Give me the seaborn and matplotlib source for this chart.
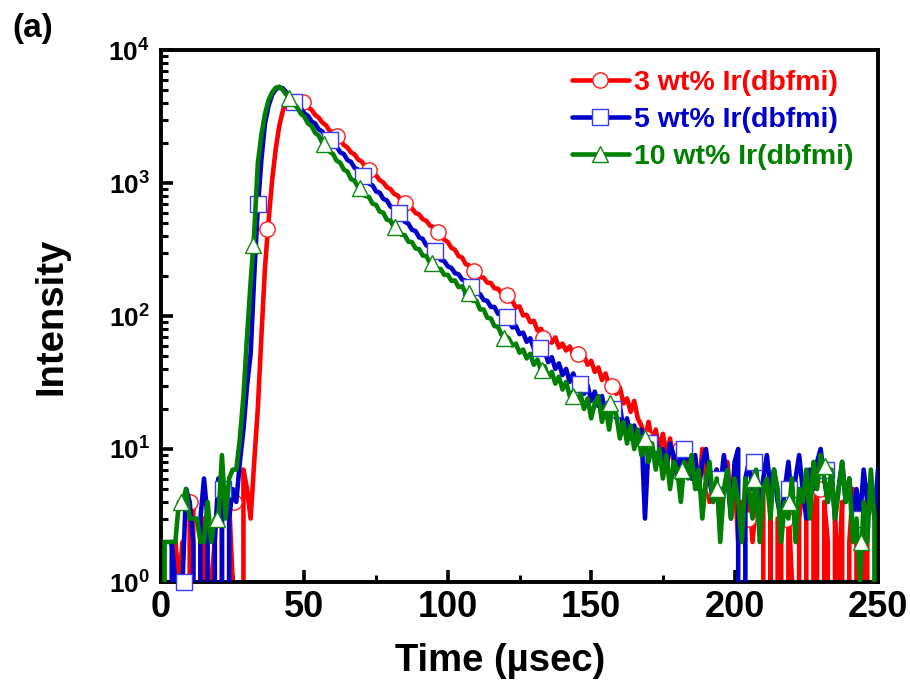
import numpy as np
import pandas as pd
import matplotlib
matplotlib.use("Agg")
import matplotlib.pyplot as plt
import seaborn as sns
from matplotlib.lines import Line2D
from matplotlib.ticker import LogLocator, MultipleLocator, NullFormatter

# ---------------- data ----------------
series_labels = ["3 wt% Ir(dbfmi)", "5 wt% Ir(dbfmi)", "10 wt% Ir(dbfmi)"]
tick_x = [0, 50, 100, 150, 200, 250]

# sampling grid of the decay traces (µs)
time_us = [1.25 * i for i in range(201)]

counts_3wt = [
    0, 0, 1, 0, 2, 1, 2, 0, 4, 4, 0, 2, 3, 0, 1, 2, 0, 3, 4, 4, 1, 0, 0,
    7, 5, 3, 8, 20, 70, 230, 520, 1050, 1800, 2700, 3500, 4200, 4400, 4350, 4200, 4100, 3950,
    3700, 3550, 3250, 3100, 2850, 2720, 2480, 2380, 2200, 2100,
    1930, 1850, 1700, 1640, 1500, 1450, 1330, 1270, 1180, 1140,
    1050, 1010, 930, 900, 830, 805, 740, 715, 665, 645,
    595, 580, 535, 520, 480, 465, 430, 412, 375, 360,
    325, 315, 282, 275, 245, 240, 215, 212, 196, 194,
    178, 177, 162, 160, 148, 146,
    132, 129, 116, 118, 101, 102, 90, 92, 78, 80,
    70, 72, 63, 69, 58, 62, 55, 59, 51, 54,
    49, 50, 43, 46, 38, 41, 33, 37, 30, 31,
    26, 29, 22, 24, 19, 23, 17, 15, 12, 16,
    11, 14, 10, 13, 9, 12, 8, 10, 11, 7,
    9, 6, 8, 5, 10, 6, 4, 5, 7, 3,
    5, 8, 4, 6, 2, 4, 3, 5, 2, 4,
    3, 5, 0, 4, 0, 3, 3, 0, 4, 1,
    0, 3, 5, 4, 0, 3, 5, 0, 4, 2,
    0, 3, 1, 4, 0, 2, 5, 3, 0, 2,
    4, 0, 1, 0,
]

counts_5wt = [
    0, 1, 0, 2, 1, 0, 1, 5, 4, 2, 0, 3, 6, 3, 0, 2, 6, 5, 0, 3, 5, 4,
    8, 14, 30, 52, 200, 650, 1500, 2800, 3800, 4600, 5050, 5250, 5150, 4800, 4400,
    4120, 3800, 3650, 3330, 3200, 2900, 2800, 2530, 2440, 2200,
    2150, 1940, 1880, 1700, 1650, 1490, 1440, 1300, 1260, 1130,
    1100, 990, 960, 865, 845, 760, 740, 665, 645, 580,
    565, 510, 495, 445, 435, 390, 380, 340, 332, 297,
    290, 264, 259, 236, 230, 210, 206, 188, 184, 167,
    164, 148, 146, 132, 130, 117, 117, 104, 104, 93,
    92, 82, 84, 73, 75, 64, 68, 57, 60, 52,
    55, 45, 49, 40, 44, 36, 40, 32, 37, 30,
    33, 26, 30, 23, 27, 21, 25, 18, 22, 19,
    17, 21, 14, 17, 12, 15, 11, 14, 3, 11,
    9, 12, 8, 10, 7, 11, 9, 6, 10, 8,
    11, 6, 9, 5, 8, 10, 6, 4, 7, 5,
    9, 6, 3, 8, 10, 0, 6, 8, 5, 7,
    4, 6, 9, 5, 7, 4, 3, 5, 8, 4,
    6, 9, 5, 3, 7, 5, 8, 10, 6, 4,
    7, 3, 5, 8, 4, 6, 3, 5, 3, 7,
    4, 6, 3, 7,
]

counts_10wt = [
    0, 2, 2, 2, 2, 4, 4, 5, 3, 3, 3, 2, 2, 4, 2, 3, 3, 9, 3, 6, 7, 7,
    12, 25, 70, 180, 420, 1400, 2300, 3300, 4200, 4800, 5200, 5300, 5000, 4600, 4300,
    3950, 3700, 3320, 3150, 2800, 2680, 2380, 2270, 2000, 1930,
    1720, 1650, 1470, 1420, 1260, 1220, 1070, 1040, 925, 900,
    800, 785, 700, 685, 610, 598, 530, 520, 462, 458,
    410, 405, 362, 360, 322, 318, 285, 282, 252, 250,
    226, 226, 204, 204, 184, 185, 165, 167, 150, 150,
    130, 130, 112, 112, 97, 96, 84, 83, 72, 71,
    68, 60, 62, 53, 56, 48, 52, 43, 47, 39,
    42, 35, 38, 31, 35, 28, 32, 25, 27, 23,
    26, 20, 24, 17, 22, 25, 16, 21, 14, 22,
    18, 12, 16, 11, 15, 10, 14, 9, 12, 8,
    11, 7, 10, 6, 9, 5, 8, 7, 4, 8,
    6, 9, 5, 7, 3, 6, 8, 4, 6, 2,
    5, 7, 3, 6, 4, 2, 6, 5, 3, 7,
    2, 5, 6, 3, 7, 5, 2, 4, 3, 6,
    2, 5, 4, 7, 3, 8, 5, 9, 6, 4,
    7, 3, 5, 8, 4, 6, 2, 3, 1, 4,
    2, 7, 3, 0,
]

# symbol positions
mk_t_3wt = [10.1, 25.5, 37.1, 49.6, 61.2, 72.4, 85.0, 96.5, 109.0, 120.6,
            133.2, 145.5, 157.3, 168.9, 180.8, 192.7, 204.5, 217.8, 229.7, 244.0]
mk_y_3wt = [4, 4, 450, 4070, 2240, 1250, 710, 430, 218, 144,
            68, 52, 30, 12, 10, 5, 3, 3, 5, 3]
mk_t_5wt = [8.0, 21.7, 33.9, 46.5, 59.0, 70.5, 83.0, 95.5, 108.0, 120.6,
            132.0, 146.0, 157.7, 170.0, 182.5, 194.0, 206.6, 219.0, 231.8, 244.0]
mk_y_5wt = [1, 5, 700, 4070, 2090, 1120, 590, 310, 166, 98,
            57, 31, 20, 11, 10, 6, 8, 5, 7, 3]
mk_t_10wt = [7.0, 19.6, 32.2, 44.8, 57.0, 69.4, 81.6, 94.6, 107.3, 119.6,
             133.0, 143.7, 156.6, 168.9, 181.5, 194.0, 206.6, 219.0, 231.5, 244.0]
mk_y_10wt = [4, 3, 340, 4350, 1950, 912, 465, 250, 148, 68,
             39, 25, 22, 12, 7, 5, 6, 4, 7.5, 2]

# ---------------- style ----------------
sns.set_style("ticks")
base = "Liberation Sans"
plt.rcParams["font.family"] = [base, "DejaVu Sans"]
plt.rcParams["font.weight"] = "bold"
plt.rcParams["mathtext.fontset"] = "custom"
plt.rcParams["mathtext.rm"] = base + ":bold"
plt.rcParams["mathtext.it"] = base + ":bold"
plt.rcParams["mathtext.bf"] = base + ":bold"
plt.rcParams["mathtext.default"] = "rm"
for key in ["text.color", "axes.labelcolor", "xtick.color", "ytick.color",
            "axes.edgecolor"]:
    plt.rcParams[key] = "black"

colors = ["#FF0000", "#0000CC", "#008000"]
edge_colors = ["#FF1A1A", "#3A3AF0", "#108810"]
markers = ["o", "s", "^"]
msizes = [11, 11.5, 11]
lw = 3.3

fig = plt.figure(figsize=(9.1, 6.86), dpi=100)
ax = fig.add_axes([161 / 910, (686 - 582) / 686, (878 - 161) / 910, (582 - 50) / 686])

traces = [counts_3wt, counts_5wt, counts_10wt]
mk_t = [mk_t_3wt, mk_t_5wt, mk_t_10wt]
mk_y = [mk_y_3wt, mk_y_5wt, mk_y_10wt]

for i, lab in enumerate(series_labels):
    df = pd.DataFrame({"t": time_us, "I": traces[i]})
    sns.lineplot(data=df, x="t", y="I", color=colors[i], lw=lw, ax=ax,
                 errorbar=None, zorder=2 + 2 * i)
    ax.plot(mk_t[i], mk_y[i], linestyle="none", marker=markers[i],
            markersize=msizes[i], mfc="white", mec=edge_colors[i], mew=1.0,
            zorder=3 + 2 * i, clip_on=False)

ax.set_yscale("log", nonpositive="clip")
ax.set_xlim(0, 250)
ax.set_ylim(1, 1e4)

ax.xaxis.set_major_locator(MultipleLocator(50))
ax.xaxis.set_minor_locator(MultipleLocator(25))
ax.yaxis.set_major_locator(LogLocator(base=10, numticks=10))
ax.yaxis.set_minor_locator(LogLocator(base=10, subs=np.arange(2, 10), numticks=20))
ax.yaxis.set_minor_formatter(NullFormatter())
ax.set_xticks(tick_x)

for sp in ax.spines.values():
    sp.set_linewidth(2.8)
    sp.set_visible(True)
    sp.set_color("black")
ax.tick_params(which="major", direction="in", length=8.5, width=2.6,
               top=False, right=False, color="black")
ax.tick_params(which="minor", direction="in", length=5, width=2.2,
               top=False, right=False, color="black")
ax.tick_params(axis="x", which="major", labelsize=26, pad=6, labelcolor="black")
ax.tick_params(axis="y", which="major", labelsize=19, pad=8, labelcolor="black")
for t in ax.get_xticklabels() + ax.get_yticklabels():
    t.set_fontweight("bold")

ax.set_xlabel("Time (µsec)", fontsize=27.5, fontweight="bold", labelpad=13,
              color="black")
ax.xaxis.label.set_x(0.473)
ax.set_ylabel("Intensity", fontsize=27.5, fontweight="bold", labelpad=28,
              color="black")
ax.grid(False)

handles = [Line2D([], [], color=colors[i], lw=lw, marker=markers[i],
                  markersize=msizes[i], mfc="white", mec=edge_colors[i], mew=1.0)
           for i in range(3)]
leg = ax.legend(handles, series_labels, loc="upper left",
                bbox_to_anchor=(0.573, 0.962), frameon=False, borderpad=0,
                borderaxespad=0, handlelength=2.0, handletextpad=0.2,
                labelspacing=0.38,
                prop={"family": base, "weight": "bold", "size": 20.5})
for txt, c in zip(leg.get_texts(), colors):
    txt.set_color(c)

fig.text(12 / 910, 1 - 13 / 686, "(a)", ha="left", va="top", fontsize=24,
         fontweight="bold", family=base, color="black")

fig.savefig("out.png", dpi=100)
